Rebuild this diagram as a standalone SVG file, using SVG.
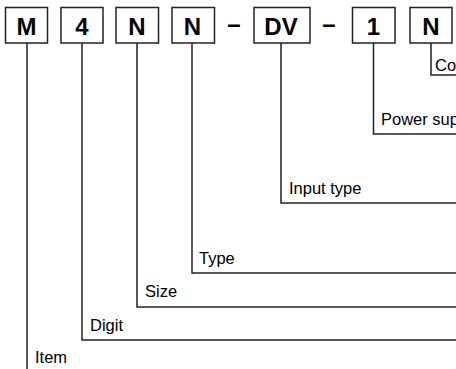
<svg xmlns="http://www.w3.org/2000/svg" width="456" height="369" viewBox="0 0 456 369">
<style>
.box{fill:#fff;stroke:#222;stroke-width:1.5}
.code{font-family:"Liberation Sans",Arial,sans-serif;font-weight:bold;font-size:24px;fill:#000;text-anchor:middle}
.lbl{font-family:"Liberation Sans",Arial,sans-serif;font-size:16.5px;fill:#000}
.ln{fill:none;stroke:#222;stroke-width:1.5}
</style>
<rect width="456" height="369" fill="#fff"/>
<g id="connectors">
<polyline class="ln" points="431,43 431,75 456,75"/>
<polyline class="ln" points="373.5,43 373.5,134 456,134"/>
<polyline class="ln" points="281,43 281,203 456,203"/>
<polyline class="ln" points="192,43 192,273 456,273"/>
<polyline class="ln" points="137,43 137,307 456,307"/>
<polyline class="ln" points="82,43 82,340 456,340"/>
<polyline class="ln" points="27,43 27,369"/>
</g>
<g id="node-M"><rect class="box" x="5.5" y="7.5" width="42" height="35.5"/><text class="code" x="26.5" y="35">M</text></g>
<g id="node-4"><rect class="box" x="61" y="7.5" width="42" height="35.5"/><text class="code" x="82" y="35">4</text></g>
<g id="node-N1"><rect class="box" x="116" y="7.5" width="42.5" height="35.5"/><text class="code" x="137" y="35">N</text></g>
<g id="node-N2"><rect class="box" x="172" y="7.5" width="42.5" height="35.5"/><text class="code" x="192.5" y="35">N</text></g>
<g id="dash1"><text class="code" x="234" y="32">–</text></g>
<g id="node-DV"><rect class="box" x="254" y="7.5" width="56" height="35.5"/><text class="code" x="281" y="35">DV</text></g>
<g id="dash2"><text class="code" x="329" y="32">–</text></g>
<g id="node-1"><rect class="box" x="352.5" y="7.5" width="42.5" height="35.5"/><text class="code" x="373.5" y="35">1</text></g>
<g id="node-N3"><rect class="box" x="410" y="7.5" width="42" height="35.5"/><text class="code" x="431" y="35">N</text></g>
<g id="labels">
<text class="lbl" x="435" y="71">Co</text>
<text class="lbl" x="381" y="125">Power sup</text>
<text class="lbl" x="289" y="194">Input type</text>
<text class="lbl" x="199" y="264">Type</text>
<text class="lbl" x="145" y="297">Size</text>
<text class="lbl" x="90" y="331">Digit</text>
<text class="lbl" x="35" y="363">Item</text>
</g>
</svg>
